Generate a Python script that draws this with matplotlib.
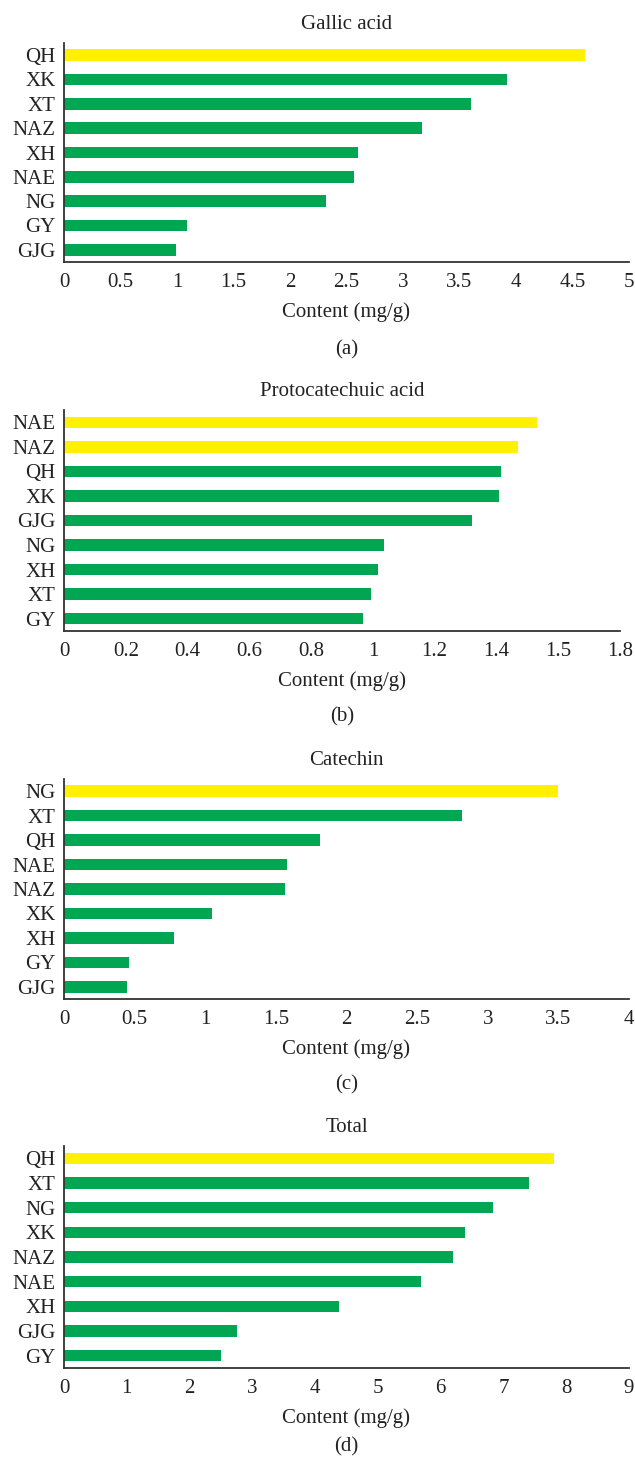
import matplotlib
matplotlib.use("Agg")
import matplotlib.pyplot as plt
import numpy as np

plt.rcParams['font.family'] = ['Liberation Serif', 'DejaVu Serif']

# panel (a) Gallic acid
gallic_names = ['QH', 'XK', 'XT', 'NAZ', 'XH', 'NAE', 'NG', 'GY', 'GJG']
gallic_vals = [4.61, 3.92, 3.60, 3.17, 2.60, 2.57, 2.32, 1.09, 0.995]

# panel (b) Protocatechuic acid
proto_names = ['NAE', 'NAZ', 'QH', 'XK', 'GJG', 'NG', 'XH', 'XT', 'GY']
proto_vals = [1.532, 1.469, 1.414, 1.407, 1.320, 1.035, 1.016, 0.994, 0.967]

# panel (c) Catechin
cate_names = ['NG', 'XT', 'QH', 'NAE', 'NAZ', 'XK', 'XH', 'GY', 'GJG']
cate_vals = [3.50, 2.82, 1.81, 1.58, 1.567, 1.047, 0.78, 0.462, 0.448]

# panel (d) Total
total_names = ['QH', 'XT', 'NG', 'XK', 'NAZ', 'NAE', 'XH', 'GJG', 'GY']
total_vals = [7.80, 7.41, 6.84, 6.38, 6.20, 5.69, 4.38, 2.76, 2.50]

# how many top bars are highlighted in each panel
n_highlight = [1, 2, 1, 1]

titles = ['Gallic acid', 'Protocatechuic acid', 'Catechin', 'Total']
tags = ['(a)', '(b)', '(c)', '(d)']

xticks_a = [0, 0.5, 1, 1.5, 2, 2.5, 3, 3.5, 4, 4.5, 5]
xticks_b = [0, 0.2, 0.4, 0.6, 0.8, 1.0, 1.2, 1.4, 1.6, 1.8]
xticklabels_b = ['0', '0.2', '0.4', '0.6', '0.8', '1', '1.2', '1.4', '1.5', '1.8']
xticks_c = [0, 0.5, 1, 1.5, 2, 2.5, 3, 3.5, 4]
xticks_d = [0, 1, 2, 3, 4, 5, 6, 7, 8, 9]

YELLOW = '#FFF100'
GREEN = '#00A651'
SPINE = '#333333'
TXT = '#222222'
FS = 15

W, H = 635, 1462
fig = plt.figure(figsize=(W / 100, H / 100), dpi=100)

# axes boxes in pixels: left, right, top, bottom
boxes = [(64, 629, 43, 262),
         (64, 620, 410, 631),
         (64, 629, 779, 999),
         (64, 629, 1146, 1368)]
# distance (points) of the panel tag below the x axis
tag_offsets = [63, 62, 62, 57]

panels = [(gallic_names, gallic_vals, xticks_a, None),
          (proto_names, proto_vals, xticks_b, xticklabels_b),
          (cate_names, cate_vals, xticks_c, None),
          (total_names, total_vals, xticks_d, None)]

for i, (names, vals, ticks, ticklabels) in enumerate(panels):
    l, r, t, b = boxes[i]
    ax = fig.add_axes([l / W, 1 - b / H, (r - l) / W, (b - t) / H])
    y = np.arange(len(names))[::-1]
    colors = [YELLOW if k < n_highlight[i] else GREEN for k in range(len(names))]
    ax.barh(y, vals, height=0.47, color=colors)
    ax.set_ylim(-0.5, len(names) - 0.5)
    ax.set_xlim(ticks[0], ticks[-1])
    ax.set_yticks(y)
    ax.set_yticklabels(names, fontsize=FS)
    ax.set_xticks(ticks)
    if ticklabels is None:
        ax.set_xticklabels([('%g' % v) for v in ticks], fontsize=FS)
    else:
        ax.set_xticklabels(ticklabels, fontsize=FS)
    ax.tick_params(axis='both', length=0, colors=TXT)
    ax.tick_params(axis='x', pad=8)
    ax.tick_params(axis='y', pad=6)
    for s in ['top', 'right']:
        ax.spines[s].set_visible(False)
    for s in ['left', 'bottom']:
        ax.spines[s].set_color(SPINE)
        ax.spines[s].set_linewidth(1.3)
    ax.set_xlabel('Content (mg/g)', fontsize=FS, labelpad=7, color=TXT)
    ax.set_title(titles[i], fontsize=FS, pad=10, color=TXT)
    ax.annotate(tags[i], xy=(0.5, 0), xycoords='axes fraction',
                xytext=(0, -tag_offsets[i]), textcoords='offset points',
                ha='center', va='center', fontsize=FS, color=TXT)

fig.savefig('out.png', dpi=100)
